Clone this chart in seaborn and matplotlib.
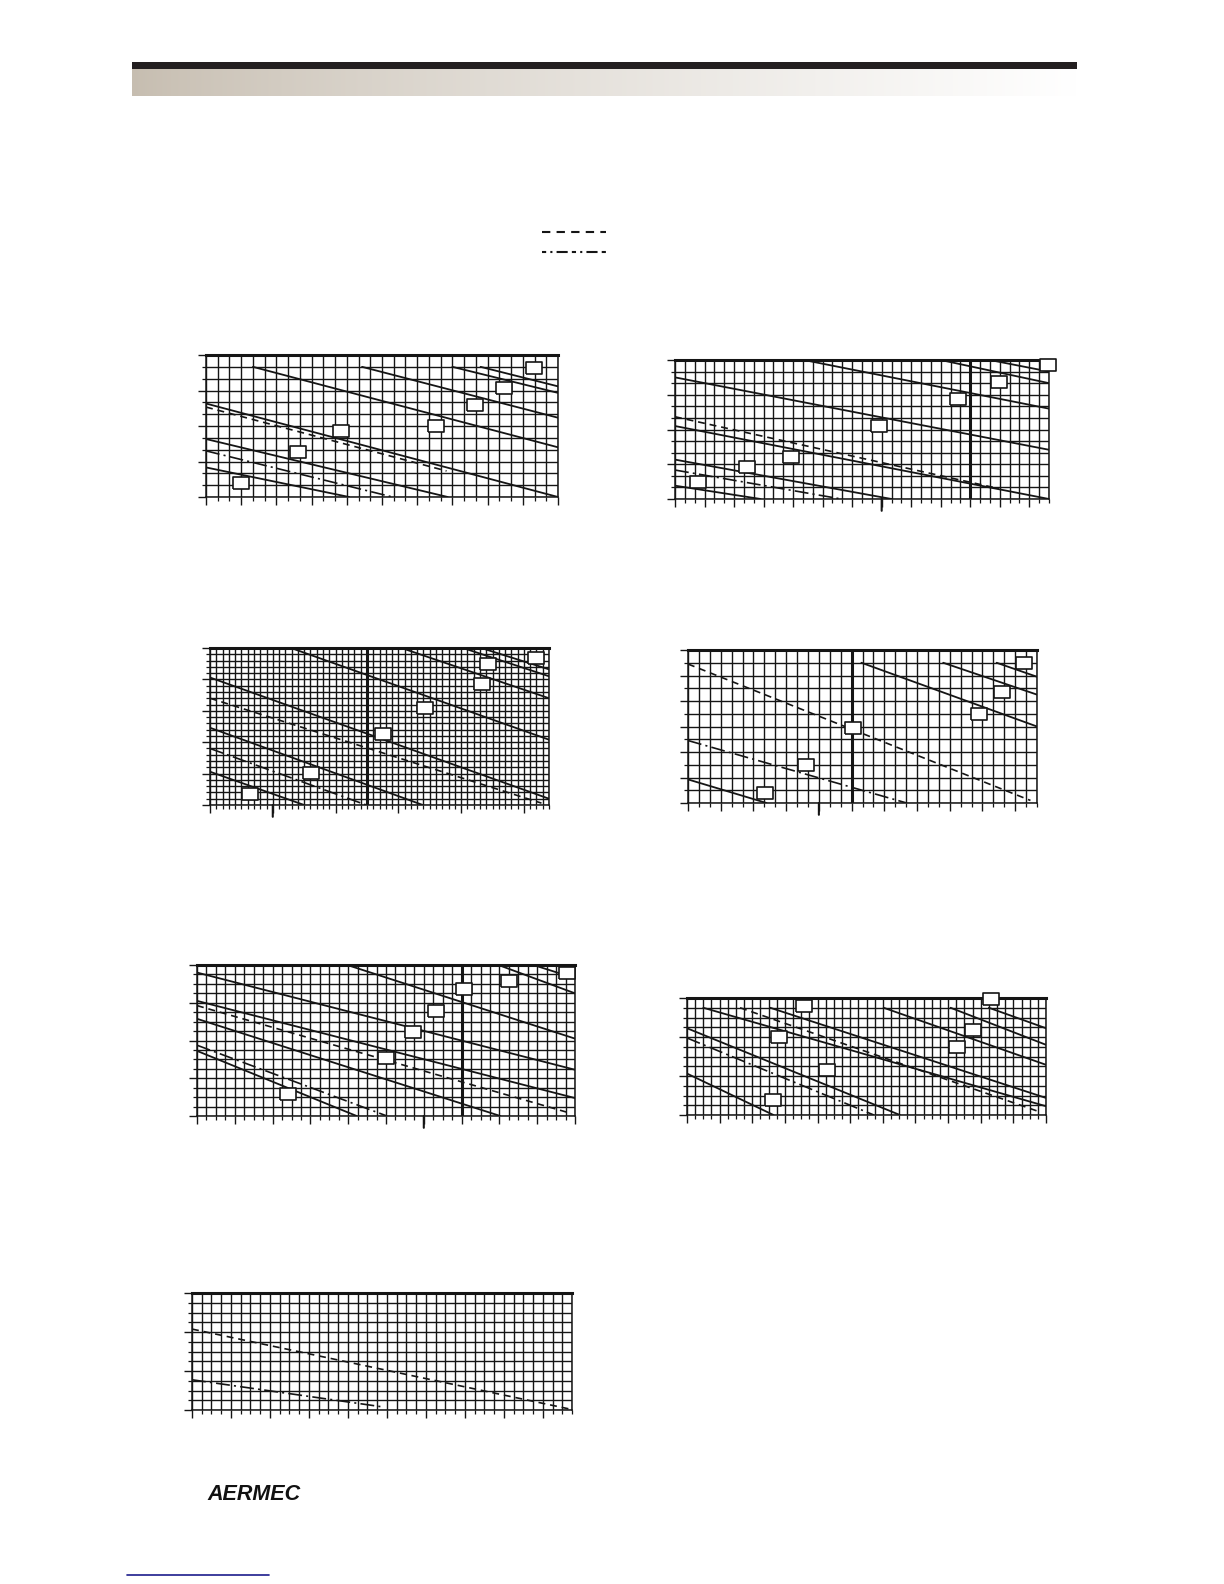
import numpy as np
import seaborn as sns
import matplotlib.pyplot as plt
from matplotlib.patches import Rectangle
from matplotlib.ticker import MultipleLocator

sns.set_style("white")
plt.rcParams["font.family"] = ["Liberation Sans", "DejaVu Sans"]
plt.rcParams["lines.scale_dashes"] = False

W, H = 1224, 1584
INK = "#151515"
DASHED = (0, (5, 3.5))
DASHDOT = (0, (10, 3, 1.5, 3))

# chart boxes in page pixels (left, top, right, bottom)
box1 = (206, 355, 558, 497)
box2 = (675, 360, 1049, 499)
box3 = (210, 648, 549, 805)
box4 = (688, 650, 1037, 803)
box5 = (197, 965, 575, 1116)
box6 = (687, 998, 1046, 1115)
box7 = (192, 1293, 572, 1410)

# grid sizes: columns, rows, major x step, major y step, heavy columns, long ticks
grid1 = (30, 12, 3, 3, [], [])
grid2 = (38, 12, 3, 3, [30], [21])
grid3 = (54, 25, 10, 5, [25], [10])
grid4 = (32, 12, 3, 2, [15], [12])
grid5 = (40, 16, 4, 4, [28], [24])
grid6 = (44, 12, 4, 4, [], [])
grid7 = (39, 12, 4, 4, [], [])

# curves as (x0, y0, x1, y1) in grid units
solid1 = [(4.0, 11, 30, 4.2), (13.3, 11, 30, 6.7), (21.0, 11, 30, 8.8),
          (23.4, 11, 30, 9.35), (0, 7.9, 30, 0), (0, 4.9, 20.6, 0), (0, 2.5, 12.2, 0)]
dash1 = [(0, 7.6, 20.5, 2.2)]
dashdot1 = [(0, 3.9, 15.9, 0)]
sq1_x = [3.0, 7.8, 11.5, 19.6, 22.9, 25.4, 27.95]
sq1_y = [1.2, 3.8, 5.6, 6.0, 7.8, 9.2, 10.9]

solid2 = [(13.1, 12, 38, 7.8), (27.0, 12, 38, 10.0), (32.0, 12, 38, 11.0),
          (0, 10.5, 38, 4.25), (0, 6.3, 38, 0), (0, 3.4, 22.0, 0), (0, 1.15, 8.7, 0)]
dash2 = [(0, 7.1, 32.9, 0.9)]
dashdot2 = [(0, 2.5, 16.9, 0)]
sq2_x = [2.3, 7.3, 11.8, 20.75, 28.8, 32.9, 37.9]
sq2_y = [1.45, 2.8, 3.6, 6.3, 8.6, 10.1, 11.6]

solid3 = [(12.9, 25, 54, 10.4), (30.5, 25, 54, 17.0), (40.3, 25, 54, 20.5),
          (43.2, 25, 54, 21.6), (0, 20.3, 54, 1.0), (0, 12.3, 33.9, 0), (0, 5.3, 15.0, 0)]
dash3 = [(0, 17.0, 52.8, 0.3)]
dashdot3 = [(0, 9.0, 24.9, 0)]
sq3_x = [6.4, 16.1, 27.6, 34.2, 43.3, 44.3, 51.9]
sq3_y = [1.7, 5.05, 11.3, 15.5, 19.3, 22.4, 23.35]

solid4 = [(15.9, 11, 32, 6.0), (23.4, 11, 32, 8.5), (28.3, 11, 32, 9.9), (0, 1.85, 7.2, 0)]
dash4 = [(0, 10.9, 31.4, 0.2)]
dashdot4 = [(0, 4.9, 20.05, 0)]
sq4_x = [7.07, 10.84, 15.16, 26.7, 28.75, 30.8]
sq4_y = [0.8, 2.96, 5.92, 6.97, 8.7, 11.0]

solid5 = [(0, 15.2, 40, 4.9), (0, 12.2, 40, 1.9), (0, 10.3, 32.1, 0),
          (15.9, 16, 40, 8.2), (31.9, 16, 40, 13.0), (35.6, 16, 40, 14.6), (0, 6.9, 16.9, 0)]
dash5 = [(0, 11.7, 39.5, 0.3)]
dashdot5 = [(0, 7.5, 20.1, 0)]
sq5_x = [9.6, 20.0, 22.9, 25.3, 28.3, 33.0, 39.2]
sq5_y = [2.3, 6.1, 8.9, 11.1, 13.5, 14.3, 15.2]

solid6 = [(2.0, 11, 44, 0.9), (10.2, 11, 44, 1.75), (24.1, 11, 44, 5.15),
          (32.3, 11, 44, 7.2), (37.0, 11, 44, 8.9), (0, 8.9, 26.1, 0), (0, 4.25, 10.6, 0)]
dash6 = [(6.5, 11, 43.3, 0.3)]
dashdot6 = [(0, 7.9, 22.9, 0)]
sq6_x = [14.3, 11.3, 17.2, 10.5, 33.1, 35.0, 37.2]
sq6_y = [11.2, 7.97, 4.65, 1.5, 6.94, 8.68, 11.86]

solid7 = []
dash7 = [(0, 8.3, 39, 0.05)]
dashdot7 = [(0, 3.1, 19.7, 0.3)]
sq7_x = []
sq7_y = []

SQUARE = [(-1.25, -1), (1.25, -1), (1.25, 1), (-1.25, 1), (-1.25, -1)]


def page_rect(box):
    l, t, r, b = box
    return [l / W, 1 - b / H, (r - l) / W, (b - t) / H]


def draw_chart(fig, box, grid, solid, dashed, dashdot, sq_x, sq_y):
    ncols, nrows, xmaj, ymaj, heavy, long_ticks = grid
    ax = fig.add_axes(page_rect(box))
    ax.set_xlim(0, ncols)
    ax.set_ylim(0, nrows)
    ax.xaxis.set_major_locator(MultipleLocator(xmaj))
    ax.xaxis.set_minor_locator(MultipleLocator(1))
    ax.yaxis.set_major_locator(MultipleLocator(ymaj))
    ax.yaxis.set_minor_locator(MultipleLocator(1))
    ax.grid(which="both", color=INK, lw=1.0)
    ax.tick_params(which="major", direction="out", length=5.5, width=1.0, color=INK,
                   labelbottom=False, labelleft=False, bottom=True, left=True)
    ax.tick_params(which="minor", direction="out", length=2.8, width=0.9, color=INK,
                   bottom=True, left=True)
    for side, sp in ax.spines.items():
        sp.set_color(INK)
        sp.set_linewidth(2.2 if side == "top" else 1.1)
    for c in heavy:
        ax.axvline(c, color=INK, lw=2.2, zorder=2)
    # a few bottom ticks are drawn a little longer and heavier
    for c in long_ticks:
        ax.tick_params(which="major", length=5.5)
        ax.annotate("", xy=(c, 0), xycoords=("data", "axes fraction"),
                    xytext=(0, -8.5), textcoords="offset points",
                    arrowprops=dict(arrowstyle="-", color=INK, lw=1.5,
                                    shrinkA=0, shrinkB=0))

    for style, segs, lw in ((None, solid, 1.3), (DASHED, dashed, 1.2), (DASHDOT, dashdot, 1.2)):
        for x0, y0, x1, y1 in segs:
            kw = {} if style is None else {"linestyle": style}
            sns.lineplot(x=[x0, x1], y=[y0, y1], ax=ax, color=INK, lw=lw,
                         legend=False, zorder=3, **kw)
    if sq_x:
        sns.scatterplot(x=sq_x, y=sq_y, ax=ax, marker=SQUARE, s=135, color="white",
                        edgecolor=INK, linewidth=1.2, zorder=5, clip_on=False, legend=False)
    ax.set_xlabel("")
    ax.set_ylabel("")
    return ax


fig = plt.figure(figsize=(W / 100, H / 100), dpi=100)

# page decorations
bg = fig.add_axes([0, 0, 1, 1], zorder=-1)
bg.axis("off")

ramp = np.linspace(0, 1, 400) ** 0.8
left_rgb = np.array([198, 189, 176]) / 255
grad = left_rgb[None, :] * (1 - ramp[:, None]) + ramp[:, None]
bg.imshow(grad[None, :, :], extent=[132, 1077, 96, 68], aspect="auto", interpolation="bilinear")
bg.add_patch(Rectangle((132, 62), 945, 6.5, color="#231f20", lw=0))
bg.set_xlim(0, W)
bg.set_ylim(H, 0)

bg.plot([542, 606], [232, 232], color=INK, lw=1.5, linestyle=(0, (6, 4.5)))
bg.plot([542, 606], [252, 252], color=INK, lw=1.5, linestyle=(0, (3, 3, 1.5, 3, 8, 3)))

bg.text(254, 1494, "AERMEC", ha="center", va="center", fontsize=15.5,
        fontweight="heavy", fontstyle="italic", color="#111111")
bg.plot([127, 269], [1575, 1575], color="#1c1c8c", lw=1.2)

draw_chart(fig, box1, grid1, solid1, dash1, dashdot1, sq1_x, sq1_y)
draw_chart(fig, box2, grid2, solid2, dash2, dashdot2, sq2_x, sq2_y)
draw_chart(fig, box3, grid3, solid3, dash3, dashdot3, sq3_x, sq3_y)
draw_chart(fig, box4, grid4, solid4, dash4, dashdot4, sq4_x, sq4_y)
draw_chart(fig, box5, grid5, solid5, dash5, dashdot5, sq5_x, sq5_y)
draw_chart(fig, box6, grid6, solid6, dash6, dashdot6, sq6_x, sq6_y)
draw_chart(fig, box7, grid7, solid7, dash7, dashdot7, sq7_x, sq7_y)

fig.savefig("out.png", dpi=100, facecolor="white")
